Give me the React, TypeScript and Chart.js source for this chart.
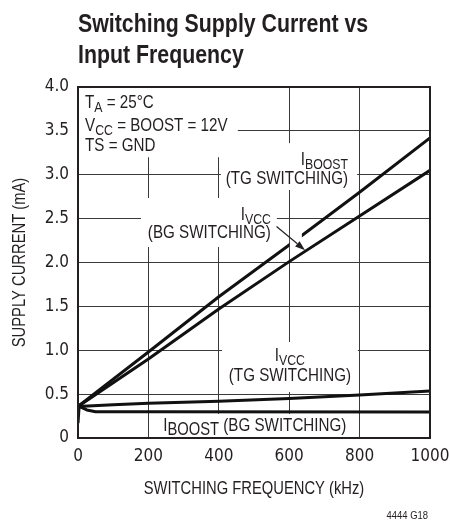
import { useEffect, useRef } from "react";
import { Chart, registerables } from "chart.js";

Chart.register(...registerables);

const TICK_FONT = "'DejaVu Sans Condensed', 'Liberation Sans Narrow', sans-serif";
const TEXT_FONT = "'Liberation Sans', Arial, Helvetica, sans-serif";
const NARROW = 0.82;
const INK = "#231f20";

const titleLines = ["Switching Supply Current vs", "Input Frequency"];
const xTitle = "SWITCHING FREQUENCY (kHz)";
const yTitle = "SUPPLY CURRENT (mA)";
const figureId = "4444 G18";

const xTicks = [0, 200, 400, 600, 800, 1000];
const yTicks = [0, 0.5, 1.0, 1.5, 2.0, 2.5, 3.0, 3.5, 4.0];

// I_BOOST (TG switching)
const boostTgFreq = [0, 200, 400, 600, 800, 1000];
const boostTgCurrent = [0.36, 0.98, 1.61, 2.2, 2.8, 3.42];
// I_VCC (BG switching)
const vccBgFreq = [0, 200, 400, 600, 800, 1000];
const vccBgCurrent = [0.36, 0.9, 1.47, 2.01, 2.53, 3.05];
// I_VCC (TG switching)
const vccTgFreq = [0, 100, 200, 400, 600, 800, 1000];
const vccTgCurrent = [0.36, 0.38, 0.395, 0.42, 0.45, 0.49, 0.535];
// I_BOOST (BG switching)
const boostBgFreq = [0, 3, 10, 25, 50, 200, 1000];
const boostBgCurrent = [0.17, 0.35, 0.35, 0.32, 0.3, 0.3, 0.295];

type Seg = { t: string; sub?: boolean };
type NoteLine = { y: number; segs: Seg[] };
type Note = { x: number; align: "left" | "right" | "center"; subSize?: number; lines: NoteLine[] };

// annotation anchors in data units (kHz, mA); y = text baseline
const notes: Note[] = [
  {
    x: 20,
    align: "left",
    lines: [
      { y: 3.755, segs: [{ t: "T" }, { t: "A", sub: true }, { t: " = 25°C" }] },
      { y: 3.504, segs: [{ t: "V" }, { t: "CC", sub: true }, { t: " = BOOST = 12V" }] },
      { y: 3.276, segs: [{ t: "TS = GND" }] },
    ],
  },
  {
    x: 767,
    align: "right",
    lines: [
      { y: 3.111, segs: [{ t: "I" }, { t: "BOOST", sub: true }] },
      { y: 2.9, segs: [{ t: "(TG SWITCHING)" }] },
    ],
  },
  {
    x: 548,
    align: "right",
    lines: [
      { y: 2.479, segs: [{ t: "I" }, { t: "VCC", sub: true }] },
      { y: 2.274, segs: [{ t: "(BG SWITCHING)" }] },
    ],
  },
  {
    x: 602,
    align: "center",
    lines: [
      { y: 0.872, segs: [{ t: "I" }, { t: "VCC", sub: true }] },
      { y: 0.65, segs: [{ t: "(TG SWITCHING)" }] },
    ],
  },
  {
    x: 242,
    align: "left",
    subSize: 18,
    lines: [{ y: 0.085, segs: [{ t: "I" }, { t: "BOOST", sub: true }, { t: " (BG SWITCHING)" }] }],
  },
];

// white label backgrounds [x1, x2, yTop, yBottom] in data units
const labelBoxes = [
  [0, 454, 4.0, 3.2],
  [406, 793, 3.36, 2.826],
  [179, 565, 2.735, 2.177],
  [409, 795, 1.094, 0.524],
  [233, 773, 0.274, 0.0],
];

// gap cut in the I_BOOST (TG) curve where the arrow crosses it [x1, x2, yTop, yBottom]
const arrowGap = [602, 636, 2.336, 2.154];

// arrow from label to I_VCC (BG) curve, data units
const arrowFrom = [564, 2.41];
const arrowTo = [645, 2.14];

const MAIN_SIZE = 18.5;
const SUB_SIZE = 15;

function fontStr(size: number, bold = false) {
  return `${bold ? "bold " : ""}${size}px ${TEXT_FONT}`;
}
function measure(ctx: CanvasRenderingContext2D, t: string, size: number, bold = false) {
  ctx.font = fontStr(size, bold);
  return ctx.measureText(t).width * NARROW;
}
// draws narrow (condensed) text by scaling a regular sans horizontally
function narrowText(
  ctx: CanvasRenderingContext2D,
  t: string,
  x: number,
  y: number,
  size: number,
  opts: { bold?: boolean; align?: CanvasTextAlign; baseline?: CanvasTextBaseline; rot?: number } = {}
) {
  ctx.save();
  ctx.font = fontStr(size, opts.bold);
  ctx.textAlign = opts.align || "left";
  ctx.textBaseline = opts.baseline || "alphabetic";
  ctx.translate(x, y);
  if (opts.rot) ctx.rotate(opts.rot);
  ctx.scale(NARROW, 1);
  ctx.fillText(t, 0, 0);
  ctx.restore();
}

function fillDataRect(ctx: CanvasRenderingContext2D, xs: any, ys: any, b: number[]) {
  const x1 = xs.getPixelForValue(b[0]);
  const x2 = xs.getPixelForValue(b[1]);
  const y1 = ys.getPixelForValue(b[2]);
  const y2 = ys.getPixelForValue(b[3]);
  ctx.fillRect(x1, y1, x2 - x1, y2 - y1);
}

const overlay = {
  id: "overlay",
  beforeDatasetsDraw(chart: any) {
    const { ctx, chartArea, scales } = chart;
    ctx.save();
    ctx.beginPath();
    ctx.rect(chartArea.left, chartArea.top, chartArea.right - chartArea.left, chartArea.bottom - chartArea.top);
    ctx.clip();
    ctx.fillStyle = "#ffffff";
    for (const b of labelBoxes) fillDataRect(ctx, scales.x, scales.y, b);
    ctx.restore();
  },
  afterDatasetsDraw(chart: any) {
    const { ctx, chartArea, scales } = chart;
    const xs = scales.x;
    const ys = scales.y;
    ctx.save();
    // gap in upper curve around the arrow
    ctx.fillStyle = "#ffffff";
    fillDataRect(ctx, xs, ys, arrowGap);

    // frame
    ctx.strokeStyle = INK;
    ctx.lineWidth = 2;
    ctx.strokeRect(chartArea.left, chartArea.top, chartArea.right - chartArea.left, chartArea.bottom - chartArea.top);

    // notes
    ctx.fillStyle = INK;
    for (const n of notes) {
      const ax = xs.getPixelForValue(n.x);
      const subSize = n.subSize || SUB_SIZE;
      for (const line of n.lines) {
        const by = ys.getPixelForValue(line.y);
        let total = 0;
        const widths = line.segs.map((s) => {
          const w = measure(ctx, s.t, s.sub ? subSize : MAIN_SIZE);
          total += w;
          return w;
        });
        let x = n.align === "left" ? ax : n.align === "right" ? ax - total : ax - total / 2;
        line.segs.forEach((s, i) => {
          narrowText(ctx, s.t, x, s.sub ? by + 4 : by, s.sub ? subSize : MAIN_SIZE);
          x += widths[i];
        });
      }
    }

    // arrow
    const x0 = xs.getPixelForValue(arrowFrom[0]);
    const y0 = ys.getPixelForValue(arrowFrom[1]);
    const x1 = xs.getPixelForValue(arrowTo[0]);
    const y1 = ys.getPixelForValue(arrowTo[1]);
    const ang = Math.atan2(y1 - y0, x1 - x0);
    const hl = 10;
    const hw = 3.5;
    const bx = x1 - hl * Math.cos(ang);
    const by = y1 - hl * Math.sin(ang);
    ctx.strokeStyle = INK;
    ctx.lineWidth = 1.2;
    ctx.beginPath();
    ctx.moveTo(x0, y0);
    ctx.lineTo(bx, by);
    ctx.stroke();
    ctx.beginPath();
    ctx.moveTo(x1, y1);
    ctx.lineTo(bx + hw * Math.sin(ang), by - hw * Math.cos(ang));
    ctx.lineTo(bx - hw * Math.sin(ang), by + hw * Math.cos(ang));
    ctx.closePath();
    ctx.fill();
    ctx.restore();
  },
  afterDraw(chart: any) {
    const { ctx, chartArea } = chart;
    ctx.save();
    ctx.fillStyle = INK;
    // chart title
    narrowText(ctx, titleLines[0], chartArea.left, 32, 26, { bold: true });
    narrowText(ctx, titleLines[1], chartArea.left, 63, 26, { bold: true });
    // axis titles
    const cx = (chartArea.left + chartArea.right) / 2;
    const cy = (chartArea.top + chartArea.bottom) / 2;
    narrowText(ctx, xTitle, cx, 494, 18, { align: "center" });
    narrowText(ctx, yTitle, 20, cy, 18, { align: "center", baseline: "middle", rot: -Math.PI / 2 });
    // figure id
    narrowText(ctx, figureId, chartArea.right - 2, 519, 11.5, { align: "right" });
    ctx.restore();
  },
};

function toPoints(xsArr: number[], ysArr: number[]) {
  return xsArr.map((x, i) => ({ x, y: ysArr[i] }));
}

export default function App() {
  const ref = useRef<HTMLCanvasElement | null>(null);
  useEffect(() => {
    if (!ref.current) return;
    const ds = (pts: any[], w: number) => ({
      data: pts,
      borderColor: "#111",
      borderWidth: w,
      pointRadius: 0,
      fill: false,
      tension: 0,
      borderCapStyle: "butt",
      borderJoinStyle: "round",
    });
    const chart = new Chart(ref.current, {
      type: "line",
      data: {
        datasets: [
          ds(toPoints(boostTgFreq, boostTgCurrent), 3),
          ds(toPoints(vccBgFreq, vccBgCurrent), 3),
          ds(toPoints(vccTgFreq, vccTgCurrent), 3),
          ds(toPoints(boostBgFreq, boostBgCurrent), 3),
        ] as any,
      },
      options: {
        animation: false,
        responsive: false,
        layout: { padding: { top: 87, right: 20, bottom: 0, left: 0 } },
        plugins: { legend: { display: false }, tooltip: { enabled: false }, title: { display: false } },
        scales: {
          x: {
            type: "linear",
            min: 0,
            max: 1000,
            afterBuildTicks: (axis: any) => {
              axis.ticks = xTicks.map((v) => ({ value: v }));
            },
            afterFit: (axis: any) => {
              axis.height = 85;
              axis.paddingLeft = 0;
              axis.paddingRight = 0;
            },
            ticks: {
              color: INK,
              font: { family: TICK_FONT, size: 17 },
              padding: 8,
              maxRotation: 0,
              autoSkip: false,
              callback: (v: any) => String(v),
            },
            grid: { color: "#3a3a3a", lineWidth: 1, drawTicks: false },
            border: { display: true, color: INK, width: 2 },
            title: { display: false },
          },
          y: {
            type: "linear",
            min: 0,
            max: 4,
            afterBuildTicks: (axis: any) => {
              axis.ticks = yTicks.map((v) => ({ value: v }));
            },
            afterFit: (axis: any) => {
              axis.width = 78;
              axis.paddingTop = 0;
              axis.paddingBottom = 0;
            },
            ticks: {
              color: INK,
              font: { family: TICK_FONT, size: 17 },
              padding: 9,
              autoSkip: false,
              callback: (v: any) => (Number(v) === 0 ? "0" : Number(v).toFixed(1)),
            },
            grid: { color: "#3a3a3a", lineWidth: 1, drawTicks: false },
            border: { display: true, color: INK, width: 2 },
            title: { display: false },
          },
        },
      },
      plugins: [overlay],
    } as any);
    return () => chart.destroy();
  }, []);
  return (
    <div style={{ position: "fixed", left: 0, top: 0, width: 450, height: 523, background: "#fff" }}>
      <canvas ref={ref} width={450} height={523} style={{ display: "block" }} />
    </div>
  );
}
